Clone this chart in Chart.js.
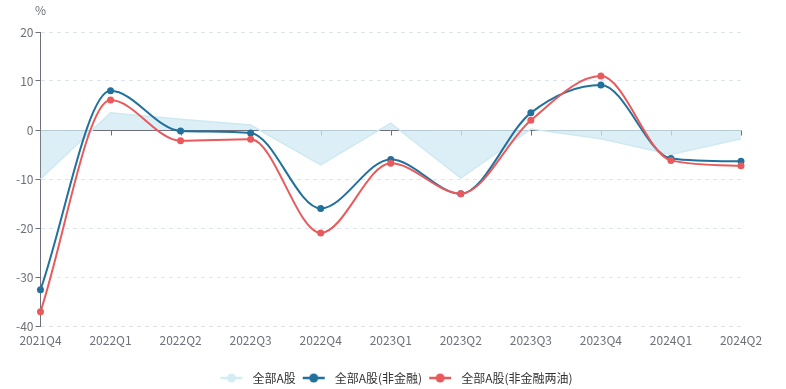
<!DOCTYPE html>
<html lang="zh-CN">
<head>
  <meta charset="utf-8">
  <title>全部A股增速</title>
  <script type="text/javascript" src="https://cdn.jsdelivr.net/npm/chart.js"></script>
  <style>
    html, body { margin: 0; padding: 0; background: #fff; }
    #wrap { width: 786px; height: 389px; }
  </style>
</head>
<body>
<div id="wrap"><canvas id="c"></canvas></div>

<script>
  // quarters on the x axis
  const quarters = ['2021Q4', '2022Q1', '2022Q2', '2022Q3', '2022Q4', '2023Q1',
                    '2023Q2', '2023Q3', '2023Q4', '2024Q1', '2024Q2'];

  // growth rates, %
  const allA        = [-10, 3.5, 2.2, 1.0, -7.1, 1.4, -9.8, 0.2, -1.8, -5.0, -1.8];
  const allANonFin  = [-32.6, 8.0, -0.2, -0.6, -16.0, -6.0, -13.0, 3.5, 9.2, -5.8, -6.4];
  const allANonFinOil = [-37.1, 6.1, -2.2, -1.9, -21.0, -6.8, -13.0, 2.0, 11.0, -6.2, -7.3];

  const seriesNames = ['全部A股', '全部A股(非金融)', '全部A股(非金融两油)'];

  const yMin = -40, yMax = 20, yStep = 10;

  const axisGrey = '#6e7079';
  const cnFont = '"Noto Sans CJK SC", "Noto Sans", sans-serif';

  // legend icon: short line with a dot in the middle
  function legendIcon(color) {
    const cv = document.createElement('canvas');
    cv.width = 28; cv.height = 12;
    const g = cv.getContext('2d');
    g.strokeStyle = color;
    g.lineWidth = 2.5;
    g.beginPath(); g.moveTo(2, 6); g.lineTo(24, 6); g.stroke();
    g.fillStyle = color;
    g.beginPath(); g.arc(13, 6, 4.5, 0, Math.PI * 2); g.fill();
    return cv;
  }

  // zero line with small tick marks, plus the "%" unit label
  const zeroAxis = {
    id: 'zeroAxis',
    afterLayout(chart) {
      // nudge the legend a little to the right, as in the original
      chart.legend.left += 18;
      chart.legend.right += 18;
    },
    beforeDatasetsDraw(chart) {
      const { ctx, scales: { x, y }, chartArea } = chart;
      const y0 = Math.round(y.getPixelForValue(0)) + 0.5;
      ctx.save();
      ctx.strokeStyle = axisGrey;
      ctx.lineWidth = 1;
      ctx.beginPath();
      ctx.moveTo(chartArea.left, y0);
      ctx.lineTo(chartArea.right, y0);
      quarters.forEach((q, i) => {
        const px = Math.round(x.getPixelForValue(i)) + 0.5;
        ctx.moveTo(px, y0);
        ctx.lineTo(px, y0 + 5);
      });
      ctx.stroke();
      ctx.restore();
    },
    afterDraw(chart) {
      const { ctx, chartArea } = chart;
      ctx.save();
      ctx.fillStyle = axisGrey;
      ctx.font = '12px ' + cnFont;
      ctx.textAlign = 'center';
      ctx.textBaseline = 'middle';
      ctx.fillText('%', chartArea.left, chartArea.top - 22);
      ctx.restore();
    }
  };

  const colors = ['#d4ecf4', '#21719c', '#e85a5c'];

  new Chart(document.getElementById('c'), {
    type: 'line',
    data: {
      labels: quarters,
      datasets: [
        {
          label: seriesNames[0],
          data: allA,
          borderColor: '#cfe9f2',
          backgroundColor: 'rgba(208,234,243,0.75)',
          borderWidth: 1.5,
          fill: 'origin',
          tension: 0,
          pointRadius: 0,
          pointHoverRadius: 0,
          order: 3
        },
        {
          label: seriesNames[1],
          data: allANonFin,
          borderColor: colors[1],
          backgroundColor: colors[1],
          borderWidth: 2,
          fill: false,
          cubicInterpolationMode: 'monotone',
          pointRadius: 2.5,
          order: 2
        },
        {
          label: seriesNames[2],
          data: allANonFinOil,
          borderColor: colors[2],
          backgroundColor: colors[2],
          borderWidth: 2,
          fill: false,
          cubicInterpolationMode: 'monotone',
          pointRadius: 2.5,
          order: 1
        }
      ]
    },
    options: {
      responsive: true,
      maintainAspectRatio: false,
      animation: false,
      layout: { padding: { top: 32, right: 45, left: 14, bottom: -5 } },
      plugins: {
        legend: {
          position: 'bottom',
          labels: {
            usePointStyle: true,
            pointStyleWidth: 28,
            color: '#333',
            font: { family: cnFont, size: 12 },
            boxHeight: 12,
            padding: 5,
            generateLabels(chart) {
              return chart.data.datasets.map((ds, i) => ({
                text: ds.label,
                pointStyle: legendIcon(colors[i]),
                fillStyle: colors[i],
                strokeStyle: colors[i],
                lineWidth: 0,
                hidden: false,
                datasetIndex: i,
                fontColor: '#333'
              }));
            }
          }
        },
        tooltip: { enabled: false }
      },
      scales: {
        x: {
          offset: false,
          grid: { display: false, drawTicks: false },
          border: { display: false },
          ticks: {
            color: axisGrey,
            font: { family: cnFont, size: 12 },
            maxRotation: 0,
            autoSkip: false,
            padding: 7
          },
          afterFit(scale) { scale.height = 41; }
        },
        y: {
          min: yMin,
          max: yMax,
          ticks: {
            stepSize: yStep,
            color: axisGrey,
            font: { family: cnFont, size: 12 },
            padding: 2
          },
          border: { display: true, color: axisGrey, dash: [4, 4] },
          grid: {
            color: '#e0e6f1',
            tickColor: axisGrey,
            tickLength: 5,
            drawTicks: true
          }
        }
      }
    },
    plugins: [zeroAxis]
  });
</script>
</body>
</html>
